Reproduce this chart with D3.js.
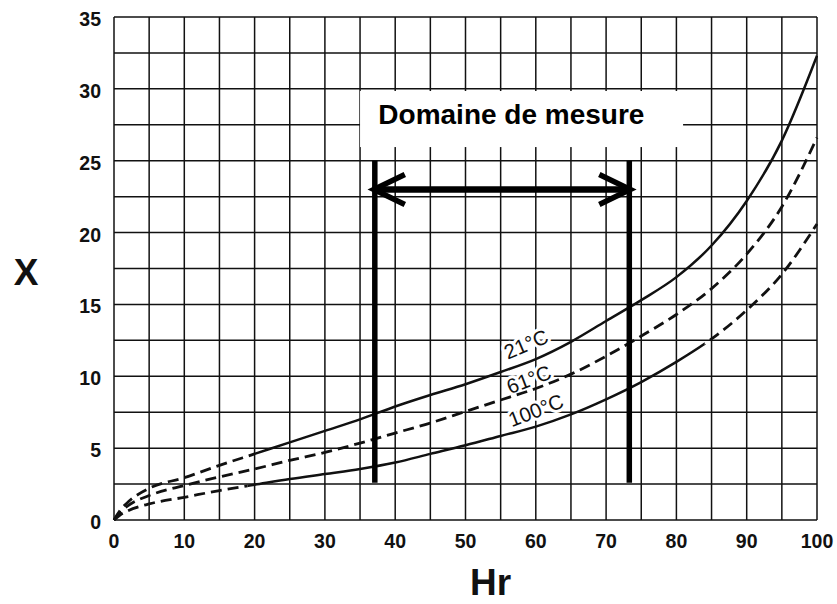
<!DOCTYPE html>
<html>
<head>
<meta charset="utf-8">
<script src="https://cdn.jsdelivr.net/npm/d3@7/dist/d3.min.js"></script>
<style>
  html, body { margin: 0; padding: 0; background: #ffffff; }
  svg { display: block; }
</style>
</head>
<body>
<svg id="chart" width="837" height="604"></svg>
<script>
// Relative humidity Hr (%) at which each isotherm is sampled
const hr = [0, 1, 2, 5, 10, 15, 20, 25, 30, 35, 40, 45, 50, 55, 60, 65, 70, 75, 80, 85, 90, 95, 100];

// Water content X for each isotherm
const x21  = [0, 0.75, 1.25, 2.2, 2.95, 3.8, 4.6, 5.4, 6.2, 7.0, 7.9, 8.7, 9.45, 10.3, 11.2, 12.4, 13.85, 15.3, 16.9, 19.1, 22.2, 26.4, 32.3];
const x61  = [0, 0.6, 1.0, 1.7, 2.4, 3.0, 3.55, 4.15, 4.7, 5.35, 6.05, 6.75, 7.55, 8.35, 9.15, 10.15, 11.4, 12.8, 14.3, 16.1, 18.5, 21.8, 26.6];
const x100 = [0, 0.4, 0.65, 1.12, 1.58, 2.05, 2.45, 2.85, 3.2, 3.55, 4.0, 4.6, 5.2, 5.85, 6.5, 7.35, 8.4, 9.6, 11.0, 12.6, 14.6, 17.1, 20.6];

const seriesNames = ["21°C", "61°C", "100°C"];

// Hr ranges drawn as dashed or solid for each isotherm
const segments21  = [["dash", 0, 20], ["solid", 20, 100]];
const segments61  = [["dash", 0, 100]];
const segments100 = [["dash", 0, 19], ["solid", 19, 84], ["dash", 84, 100]];

// Label anchor (Hr, X) for each isotherm name
const labelHr = [58.6, 59.0, 60.0];
const labelX  = [12.25, 9.8, 7.65];

// Axis ticks
const xTicks = [0, 10, 20, 30, 40, 50, 60, 70, 80, 90, 100];
const yTicks = [0, 5, 10, 15, 20, 25, 30, 35];
const xGrid = d3.range(0, 100.1, 5);
const yGrid = d3.range(0, 35.1, 2.5);

// Measurement range annotation
const rangeTitle = "Domaine de mesure";
const rangeHr = [37.1, 73.3];
const rangeBarX = [2.6, 25];
const rangeArrowX = 23;

const svg = d3.select("#chart");

const x = d3.scaleLinear().domain([0, 100]).range([114, 817]);
const y = d3.scaleLinear().domain([0, 35]).range([520, 17]);

const INK = "#111";
const FONT = "'Liberation Sans', Arial, Helvetica, sans-serif";

// Grid
const grid = svg.append("g").attr("stroke", INK).attr("stroke-width", 1.5);
grid.selectAll("line.v").data(xGrid).join("line")
  .attr("class", "v")
  .attr("x1", d => x(d)).attr("x2", d => x(d))
  .attr("y1", y(0)).attr("y2", y(35));
grid.selectAll("line.h").data(yGrid).join("line")
  .attr("class", "h")
  .attr("x1", x(0)).attr("x2", x(100))
  .attr("y1", d => y(d)).attr("y2", d => y(d));

// Tick labels
svg.append("g").selectAll("text").data(yTicks).join("text")
  .attr("x", 101).attr("y", d => y(d) + 2)
  .attr("text-anchor", "end").attr("dominant-baseline", "central")
  .attr("font-family", FONT).attr("font-weight", "bold").attr("font-size", 19.5)
  .attr("fill", INK)
  .text(d => d);

svg.append("g").selectAll("text").data(xTicks).join("text")
  .attr("x", d => x(d)).attr("y", 548)
  .attr("text-anchor", "middle")
  .attr("font-family", FONT).attr("font-weight", "bold").attr("font-size", 19.5)
  .attr("fill", INK)
  .text(d => d);

// Axis titles
svg.append("text").attr("x", 26).attr("y", 285)
  .attr("text-anchor", "middle")
  .attr("font-family", FONT).attr("font-weight", "bold").attr("font-size", 37)
  .attr("fill", INK).text("X");
svg.append("text").attr("x", 470).attr("y", 595)
  .attr("font-family", FONT).attr("font-weight", "bold").attr("font-size", 37)
  .attr("fill", INK).text("Hr");

// Isotherm names, set on a white knockout that hides the grid behind them
const angles = [-23, -21, -21];
svg.append("g").selectAll("text").data(seriesNames).join("text")
  .attr("transform", (d, i) => `translate(${x(labelHr[i])},${y(labelX[i])}) rotate(${angles[i]})`)
  .attr("text-anchor", "middle").attr("dominant-baseline", "central")
  .attr("font-family", FONT).attr("font-size", 20.5)
  .attr("fill", INK)
  .attr("stroke", "#fff").attr("stroke-width", 6).attr("paint-order", "stroke")
  .attr("stroke-linejoin", "round")
  .text(d => d);

// Isotherm curves
const defs = svg.append("defs");
const line = d3.line().curve(d3.curveMonotoneX)
  .x((d, i) => x(hr[i])).y(d => y(d));

const series = [[x21, segments21], [x61, segments61], [x100, segments100]];
series.forEach(([vals, segs], si) => {
  segs.forEach(([style, h0, h1], k) => {
    const id = `clip-${si}-${k}`;
    const left = h0 === 0 ? 0 : x(h0);
    const right = h1 === 100 ? 837 : x(h1);
    defs.append("clipPath").attr("id", id)
      .append("rect")
      .attr("x", left).attr("y", 0)
      .attr("width", right - left)
      .attr("height", 604);
    svg.append("path")
      .datum(vals)
      .attr("d", line)
      .attr("clip-path", `url(#${id})`)
      .attr("fill", "none")
      .attr("stroke", INK)
      .attr("stroke-width", style === "dash" ? 2.8 : 2.5)
      .attr("stroke-dasharray", style === "dash" ? "11,6" : null);
  });
});

// Measurement range: title box, bounding bars and double arrow
svg.append("rect")
  .attr("x", x(35)).attr("y", y(29.85))
  .attr("width", x(80.95) - x(35)).attr("height", y(25.95) - y(29.85))
  .attr("fill", "#fff");
svg.append("text")
  .attr("x", x(37.6)).attr("y", y(27.55))
  .attr("font-family", FONT).attr("font-weight", "bold").attr("font-size", 28)
  .attr("fill", "#000")
  .text(rangeTitle);

const ann = svg.append("g").attr("stroke", "#000").attr("fill", "none");
ann.selectAll("line.bar").data(rangeHr).join("line")
  .attr("class", "bar")
  .attr("x1", d => x(d)).attr("x2", d => x(d))
  .attr("y1", y(rangeBarX[0])).attr("y2", y(rangeBarX[1]))
  .attr("stroke-width", 5.5);
ann.append("line")
  .attr("x1", x(rangeHr[0]) - 2).attr("x2", x(rangeHr[1]) + 2)
  .attr("y1", y(rangeArrowX)).attr("y2", y(rangeArrowX))
  .attr("stroke-width", 6.5);
// open arrow heads
const headW = 30, headH = 15;
const ay = y(rangeArrowX);
ann.append("path")
  .attr("d", `M${x(rangeHr[0]) + headW},${ay - headH} L${x(rangeHr[0]) - 1},${ay} L${x(rangeHr[0]) + headW},${ay + headH}`)
  .attr("stroke-width", 5.5).attr("stroke-linejoin", "miter");
ann.append("path")
  .attr("d", `M${x(rangeHr[1]) - headW},${ay - headH} L${x(rangeHr[1]) + 1},${ay} L${x(rangeHr[1]) - headW},${ay + headH}`)
  .attr("stroke-width", 5.5).attr("stroke-linejoin", "miter");
</script>
</body>
</html>
